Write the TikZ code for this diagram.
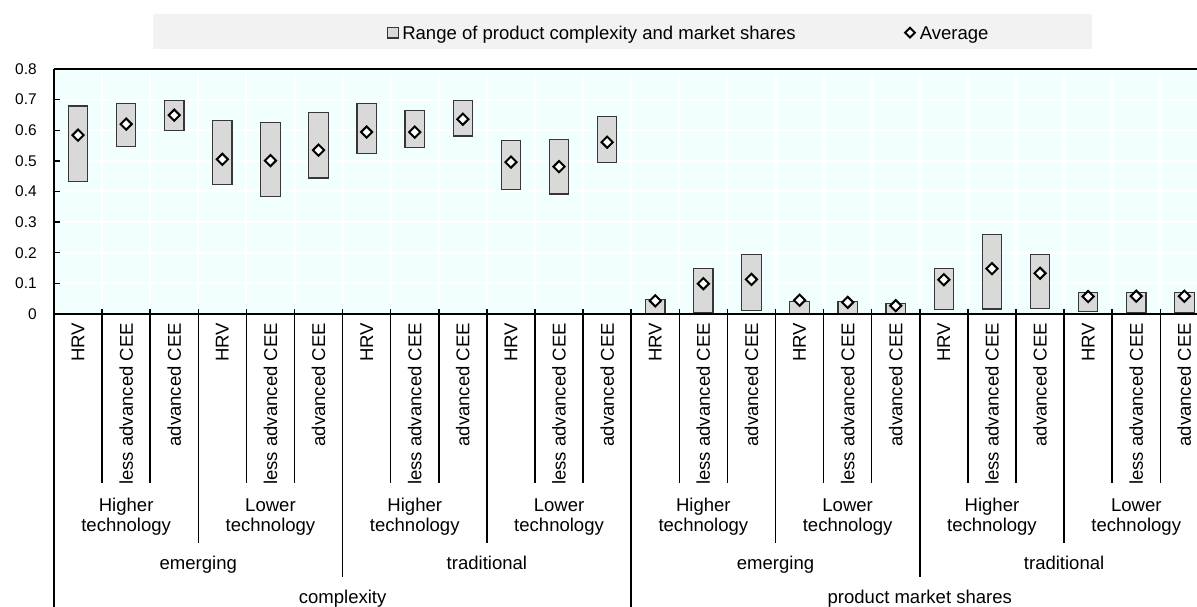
\documentclass[tikz,border=0pt]{standalone}
\usepackage{fontspec}
\setmainfont{Liberation Sans}
\usetikzlibrary{shapes.geometric}
\definecolor{fondgraphe}{RGB}{242,255,255}
\definecolor{fondlegende}{RGB}{242,242,242}
\definecolor{grisbarre}{RGB}{217,217,217}
\definecolor{bordbarre}{RGB}{55,55,55}
\tikzset{
 barre/.style={fill=grisbarre,draw=bordbarre,line width=0.9pt},
 moyenne/.style={diamond,draw=black,fill=white,line width=1.5pt,inner sep=0pt,minimum width=9pt,minimum height=9pt},
 etiq/.style={font=\fontsize{13.9}{15}\selectfont,inner sep=0pt},
 graduation/.style={font=\fontsize{11.6}{13}\selectfont,inner sep=0pt},
 separation/.style={line width=1.1pt},
}
\begin{document}
\begin{tikzpicture}[x=0.75pt,y=0.75pt]
\useasboundingbox (0,0) rectangle (1197,607);
%legende
\fill[fondlegende] (153,558) rectangle (1092,593);
\draw[barre] (387.3,569) rectangle (398.7,579.7);
\node[etiq,anchor=base west] (legplage) at (402,567.7) {Range of product complexity and market shares};
\node[moyenne,minimum width=8pt,minimum height=8pt] (legmoy) at (910,574.4) {};
\node[etiq,anchor=base west] (legtexte) at (919.5,567.7) {Average};
%zone du graphique
\begin{scope}[shift={(54,293)},x=36.075pt,y=229.6875pt]
 \fill[fondgraphe] (0,0) rectangle (24,0.8);
 %quadrillage
 \foreach \k in {1,...,7} \draw[white,line width=1.5pt] (0,\k/10)--(24,\k/10);
 \foreach \i in {1,...,23} \draw[white,line width=1.5pt] (\i,0)--(\i,0.8);
 %barres et moyennes
 \foreach \i/\bas/\haut/\moy in {1/0.432/0.679/0.584, 2/0.548/0.688/0.620, 3/0.598/0.697/0.649,
   4/0.423/0.631/0.505, 5/0.383/0.625/0.501, 6/0.444/0.657/0.535,
   7/0.524/0.688/0.594, 8/0.544/0.665/0.594, 9/0.581/0.697/0.636,
   10/0.407/0.567/0.496, 11/0.392/0.569/0.481, 12/0.495/0.644/0.561,
   13/0.002/0.048/0.043, 14/0.004/0.149/0.099, 15/0.011/0.194/0.113,
   16/0.000/0.040/0.045, 17/0.001/0.042/0.038, 18/0.000/0.034/0.027,
   19/0.015/0.149/0.112, 20/0.016/0.260/0.148, 21/0.017/0.194/0.133,
   22/0.009/0.071/0.057, 23/0.005/0.069/0.058, 24/0.005/0.069/0.058} {
   \draw[barre] (\i-0.7025,\bas) rectangle (\i-0.2975,\haut);
   \node[moyenne] (m\i) at (\i-0.5,\moy) {};
 }
 %cadre et axe horizontal
 \draw[line width=1.5pt] (0,0.8)--(24,0.8);
 \draw[line width=1.5pt] (0,0)--(24,0);
 %graduations de l'axe vertical
 \foreach \v in {0,0.1,0.2,0.3,0.4,0.5,0.6,0.7,0.8} {
   \draw[line width=1pt] (0,\v)--++(4.5pt,0pt);
   \node[graduation,anchor=east] (g\v) at ([xshift=-12.75pt]0,\v) {\v};
 }
\end{scope}
%etiquettes de l'axe horizontal
\begin{scope}[shift={(54,293)},x=36.075pt]
 \draw[line width=1.5pt] (0,245)--(0,-293);
 \foreach \i in {1,2,4,5,7,8,10,11,13,14,16,17,19,20,22,23} \draw[separation] (\i,5)--(\i,-169);
 \foreach \i in {3,9,15,21} \draw[separation] (\i,5)--(\i,-229);
 \foreach \i in {6,18} \draw[separation] (\i,5)--(\i,-263);
 \draw[separation] (12,5)--(12,-293);
 %pays
 \foreach \g [count=\n] in {0,3,...,21} {
   \node[etiq,rotate=90,anchor=east] (hrv\n) at (\g+0.5,-8.7) {HRV};
   \node[etiq,rotate=90,anchor=east] (moins\n) at (\g+1.5,-8.7) {less advanced CEE};
   \node[etiq,rotate=90,anchor=east] (avance\n) at (\g+2.5,-8.7) {advanced CEE};
 }
 %technologie
 \foreach \x/\t [count=\n] in {1.5/Higher,4.5/Lower,7.5/Higher,10.5/Lower,13.5/Higher,16.5/Lower,19.5/Higher,22.5/Lower}
   \node[etiq,align=center] (tech\n) at (\x,-203) {\t\\technology};
 %type de produit
 \node[etiq,anchor=base] (emerg1) at (3,-256) {emerging};
 \node[etiq,anchor=base] (trad1) at (9,-256) {traditional};
 \node[etiq,anchor=base] (emerg2) at (15,-256) {emerging};
 \node[etiq,anchor=base] (trad2) at (21,-256) {traditional};
 %indicateur
 \node[etiq,anchor=base] (complex) at (6,-289.5) {complexity};
 \node[etiq,anchor=base] (parts) at (18,-289.5) {product market shares};
\end{scope}
\end{tikzpicture}
\end{document}
